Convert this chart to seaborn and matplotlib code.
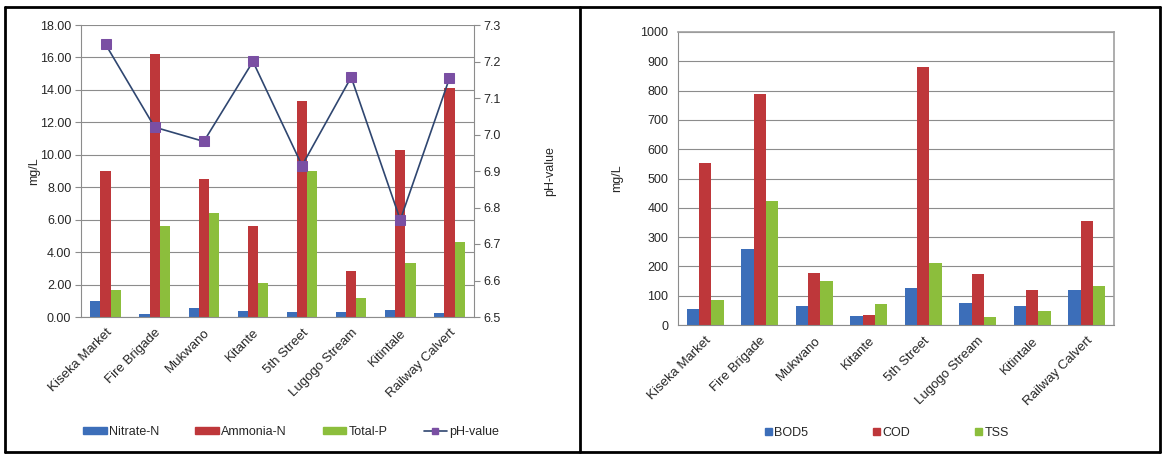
import numpy as np
import pandas as pd
import matplotlib
matplotlib.use("Agg")
import matplotlib.pyplot as plt
from matplotlib.lines import Line2D
from matplotlib.patches import Patch
import seaborn as sns

# 采样点
sites = ["Kiseka Market", "Fire Brigade", "Mukwano", "Kitante",
         "5th Street", "Lugogo Stream", "Kitintale", "Railway Calvert"]

# 左图：营养盐 (mg/L) 与 pH
nitrate_n = [1.00, 0.18, 0.53, 0.35, 0.30, 0.30, 0.43, 0.27]
ammonia_n = [9.03, 16.20, 8.52, 5.58, 13.33, 2.83, 10.29, 14.10]
total_p = [1.64, 5.63, 6.41, 2.11, 8.99, 1.15, 3.31, 4.62]
ph_value = [7.247, 7.020, 6.981, 7.200, 6.915, 7.157, 6.766, 7.154]

# 右图：有机物 (mg/L)
bod5 = [56, 259, 66, 32, 125, 74, 66, 120]
cod = [552, 789, 176, 35, 882, 174, 118, 356]
tss = [85, 423, 149, 73, 211, 26, 48, 132]

blue, red, green = "#3C6EB9", "#BE373A", "#8CBE3C"
grid_c = "#8C8C8C"

sns.set_theme(style="white")
plt.rcParams["font.family"] = ["Liberation Sans", "DejaVu Sans"]

df_left = pd.DataFrame({
    "site": sites * 3,
    "value": nitrate_n + ammonia_n + total_p,
    "param": ["Nitrate-N"] * 8 + ["Ammonia-N"] * 8 + ["Total-P"] * 8,
})
df_right = pd.DataFrame({
    "site": sites * 3,
    "value": bod5 + cod + tss,
    "param": ["BOD5"] * 8 + ["COD"] * 8 + ["TSS"] * 8,
})

fig = plt.figure(figsize=(11.64, 4.55), dpi=100)
ax1 = fig.add_axes([81 / 1164, 1 - 317 / 455, 393 / 1164, 292 / 455])
ax3 = fig.add_axes([678 / 1164, 1 - 325 / 455, 436 / 1164, 293 / 455])


def style_axis(ax, box):
    ax.set_xlim(-0.5, 7.5)
    ax.set_xticks(np.arange(8))
    ax.set_xticklabels(sites, rotation=45, ha="right", rotation_mode="anchor", fontsize=9.5)
    ax.set_xticks(np.arange(-0.5, 8.0, 1.0), minor=True)
    ax.tick_params(axis="x", which="major", length=0, pad=7)
    ax.tick_params(axis="x", which="minor", length=5, color=grid_c, width=0.8, direction="out")
    ax.tick_params(axis="y", length=4, color=grid_c, width=0.8, direction="out", labelsize=9, pad=3)
    ax.yaxis.grid(True, color=grid_c, lw=0.8)
    ax.set_axisbelow(True)
    ax.set_xlabel("")
    for s in ["left", "bottom"]:
        ax.spines[s].set_color(grid_c)
        ax.spines[s].set_linewidth(0.8)
    for s in ["top", "right"]:
        ax.spines[s].set_visible(box)
        ax.spines[s].set_color("#A0A0A0")
        ax.spines[s].set_linewidth(1.2)


# 左图柱状图
sns.barplot(data=df_left, x="site", y="value", hue="param", ax=ax1,
            palette=[blue, red, green], width=0.62, saturation=1, legend=False,
            linewidth=0)
ax1.set_ylim(0, 18)
ax1.set_yticks(np.arange(0, 18.1, 2))
ax1.set_yticklabels([f"{v:.2f}" for v in np.arange(0, 18.1, 2)])
ax1.set_ylabel("mg/L", fontsize=9, labelpad=0)
style_axis(ax1, False)

# pH 折线 (副坐标轴)
ax2 = ax1.twinx()
sns.lineplot(x=np.arange(8), y=ph_value, ax=ax2, color="#2F4670", lw=1.2,
             marker="s", markersize=7, markerfacecolor="#7A4FA3",
             markeredgecolor="#7A4FA3", legend=False)
ax2.set_ylim(6.5, 7.3)
ax2.set_yticks(np.arange(6.5, 7.31, 0.1))
ax2.set_yticklabels([f"{v:.1f}" for v in np.arange(6.5, 7.31, 0.1)])
ax2.tick_params(axis="y", length=4, color=grid_c, width=0.8, direction="out", labelsize=9, pad=3)
ax2.set_ylabel("pH-value", fontsize=9, labelpad=31)
for s in ["top", "left", "bottom"]:
    ax2.spines[s].set_visible(False)
ax2.spines["right"].set_color(grid_c)
ax2.spines["right"].set_linewidth(0.8)
ax2.grid(False)

h_left = [Patch(color=blue), Patch(color=red), Patch(color=green),
          Line2D([], [], color="#2F4670", lw=1.2, marker="s", markersize=5,
                 markerfacecolor="#7A4FA3", markeredgecolor="#7A4FA3")]
fig.legend(h_left, ["Nitrate-N", "Ammonia-N", "Total-P", "pH-value"],
           loc="center", bbox_to_anchor=(291 / 1164, 1 - 432 / 455), ncol=4,
           frameon=False, fontsize=9, handlelength=1.9, handleheight=0.45,
           handletextpad=0.15, columnspacing=2.9)

# 右图柱状图
sns.barplot(data=df_right, x="site", y="value", hue="param", ax=ax3,
            palette=[blue, red, green], width=0.68, saturation=1, legend=False,
            linewidth=0)
ax3.set_ylim(0, 1000)
ax3.set_yticks(np.arange(0, 1001, 100))
ax3.set_ylabel("mg/L", fontsize=9, labelpad=12)
style_axis(ax3, True)

h_right = [Patch(color=blue), Patch(color=red), Patch(color=green)]
fig.legend(h_right, ["BOD5", "COD", "TSS"],
           loc="center", bbox_to_anchor=(887 / 1164, 1 - 433 / 455), ncol=3,
           frameon=False, fontsize=9, handlelength=0.55, handleheight=0.55,
           handletextpad=0.2, columnspacing=5.2)

# 表格边框
for (x0, y0, x1, y1) in [(5, 7, 1160, 7), (5, 452, 1160, 452), (5, 7, 5, 452),
                         (580, 7, 580, 452), (1160, 7, 1160, 452)]:
    fig.add_artist(Line2D([x0 / 1164, x1 / 1164], [1 - y0 / 455, 1 - y1 / 455],
                          color="black", lw=2, transform=fig.transFigure))

fig.savefig("out.png", dpi=100)
